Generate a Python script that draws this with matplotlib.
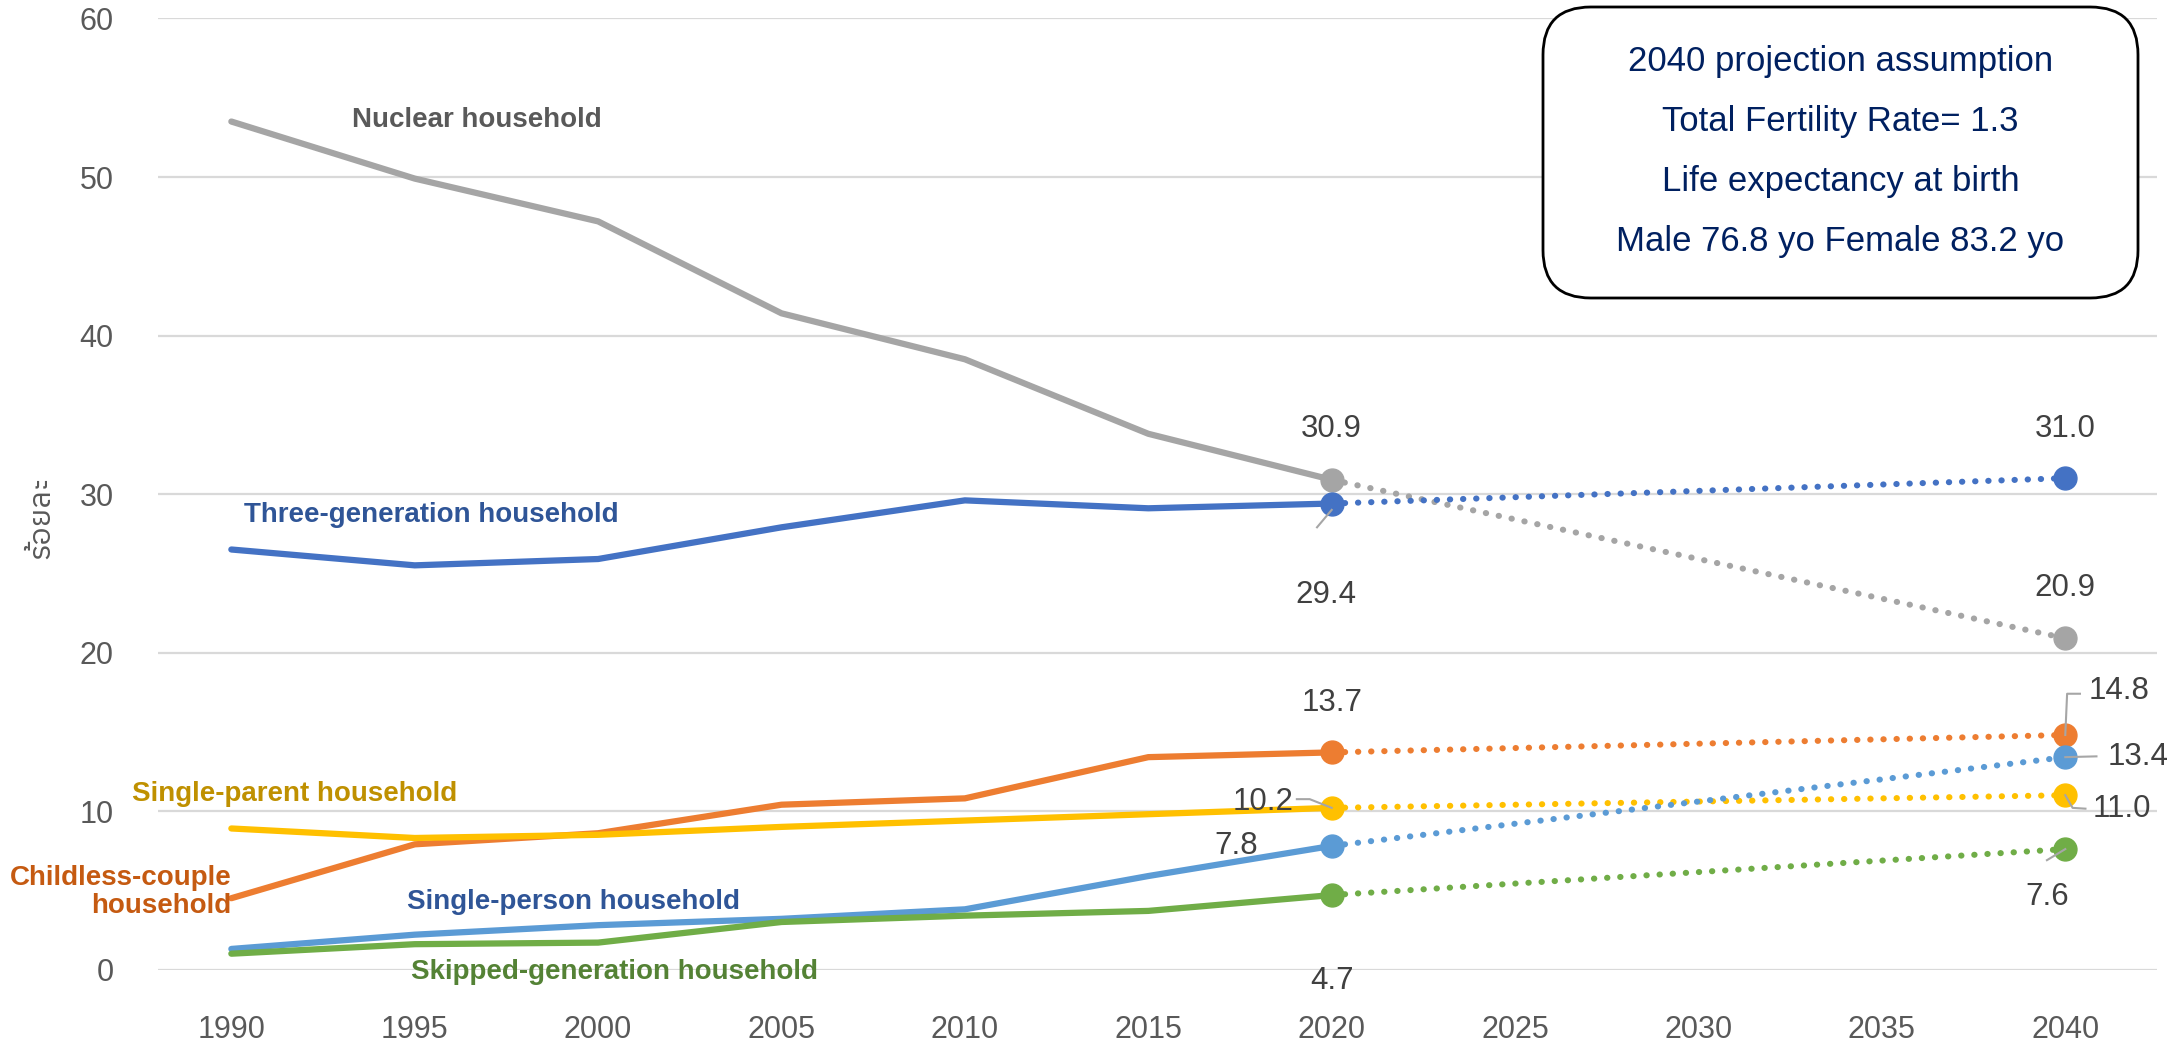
import matplotlib
matplotlib.use('Agg')
import matplotlib.pyplot as plt
from matplotlib.patches import FancyBboxPatch
from matplotlib import font_manager
from matplotlib.ft2font import FT2Font

# ---------------- data ----------------
years = [1990, 1995, 2000, 2005, 2010, 2015, 2020]
proj_years = [2020, 2040]
xticks = [1990, 1995, 2000, 2005, 2010, 2015, 2020, 2025, 2030, 2035, 2040]
yticks = [0, 10, 20, 30, 40, 50, 60]

nuclear = [53.5, 49.9, 47.2, 41.4, 38.5, 33.8, 30.9]
nuclear_proj = [30.9, 20.9]
three_gen = [26.5, 25.5, 25.9, 27.9, 29.6, 29.1, 29.4]
three_gen_proj = [29.4, 31.0]
childless = [4.5, 7.9, 8.6, 10.4, 10.8, 13.4, 13.7]
childless_proj = [13.7, 14.8]
single_parent = [8.9, 8.3, 8.5, 9.0, 9.4, 9.8, 10.2]
single_parent_proj = [10.2, 11.0]
single_person = [1.3, 2.2, 2.8, 3.2, 3.8, 5.9, 7.8]
single_person_proj = [7.8, 13.4]
skipped = [1.0, 1.6, 1.7, 3.0, 3.4, 3.7, 4.7]
skipped_proj = [4.7, 7.6]

series_names = ["Nuclear household", "Three-generation household",
                "Childless-couple\nhousehold", "Single-parent household",
                "Single-person household", "Skipped-generation household"]
box_lines = ["2040 projection assumption", "Total Fertility Rate= 1.3",
             "Life expectancy at birth", "Male 76.8 yo Female 83.2 yo"]
ylabel = "ร้อยละ"

# ---------------- fonts ----------------
base_font = 'Liberation Sans'


def find_thai_font():
    preferred = []
    others = []
    for f in font_manager.fontManager.ttflist:
        try:
            cm = FT2Font(f.fname).get_charmap()
        except Exception:
            continue
        if 0x0E23 in cm and 0x0E2D in cm and 0x0E25 in cm:
            if 'sans' in f.name.lower():
                preferred.append(f.name)
            else:
                others.append(f.name)
    if preferred:
        return preferred[0]
    if others:
        return others[0]
    return None


thai_font = find_thai_font()
plt.rcParams['font.family'] = [base_font, 'DejaVu Sans']

# ---------------- figure ----------------
fig = plt.figure(figsize=(21.7, 10.45), dpi=100)
ax = fig.add_axes([0.0728, 0.0722, 0.9212, 0.9101])
ax.set_xlim(1988, 2042.5)
ax.set_ylim(0, 60)
for s in ax.spines.values():
    s.set_visible(False)
ax.set_yticks(yticks)
ax.set_xticks(xticks)
ax.yaxis.grid(True, color='#D9D9D9', lw=1.6)
ax.set_axisbelow(True)
ax.tick_params(axis='both', length=0, labelsize=22, labelcolor='#595959')
ax.tick_params(axis='y', pad=32)
ax.tick_params(axis='x', pad=33)

c_gray = '#A5A5A5'
c_blue = '#4472C4'
c_orange = '#ED7D31'
c_yellow = '#FFC000'
c_lblue = '#5B9BD5'
c_green = '#70AD47'

dotted = (0, (0.05, 2.1))
hist = [(nuclear, nuclear_proj, c_gray), (three_gen, three_gen_proj, c_blue),
        (childless, childless_proj, c_orange), (single_parent, single_parent_proj, c_yellow),
        (single_person, single_person_proj, c_lblue), (skipped, skipped_proj, c_green)]
for h, p, c in hist:
    ax.plot(years, h, color=c, lw=4.5, solid_capstyle='round', solid_joinstyle='round', zorder=3)
    ax.plot(proj_years, p, color=c, lw=4.4, linestyle=dotted, dash_capstyle='round', zorder=3)
    ax.plot(proj_years, p, linestyle='none', marker='o', ms=16.5, color=c, zorder=4)

# series labels
lab_kw = dict(fontsize=20, fontweight='bold', va='center')
ax.text(1993.3, 53.6, series_names[0], color='#595959', ha='left', **lab_kw)
ax.text(1990.35, 28.7, series_names[1], color='#2F5597', ha='left', **lab_kw)
ax.text(1990.0, 4.9, series_names[2], color='#C55A11', ha='right', multialignment='right',
        linespacing=1.1, clip_on=False, **lab_kw)
ax.text(1987.3, 11.1, series_names[3], color='#BF9000', ha='left', clip_on=False, **lab_kw)
ax.text(1994.8, 4.25, series_names[4], color='#2F5597', ha='left', **lab_kw)
ax.text(1994.9, -0.15, series_names[5], color='#548235', ha='left', clip_on=False, **lab_kw)

# value labels
v_kw = dict(fontsize=22.5, color='#404040', va='center', clip_on=False)
ax.text(2020, 34.1, f"{nuclear_proj[0]:.1f}", ha='center', **v_kw)
ax.text(2019.85, 23.6, f"{three_gen_proj[0]:.1f}", ha='center', **v_kw)
ax.text(2040, 34.1, f"{three_gen_proj[1]:.1f}", ha='center', **v_kw)
ax.text(2040, 24.1, f"{nuclear_proj[1]:.1f}", ha='center', **v_kw)
ax.text(2020, 16.8, f"{childless_proj[0]:.1f}", ha='center', **v_kw)
ax.text(2018.95, 10.6, f"{single_parent_proj[0]:.1f}", ha='right', **v_kw)
ax.text(2018.0, 7.8, f"{single_person_proj[0]:.1f}", ha='right', **v_kw)
ax.text(2020, -0.7, f"{skipped_proj[0]:.1f}", ha='center', **v_kw)
ax.text(2040.65, 17.6, f"{childless_proj[1]:.1f}", ha='left', **v_kw)
ax.text(2041.15, 13.4, f"{single_person_proj[1]:.1f}", ha='left', **v_kw)
ax.text(2040.75, 10.1, f"{single_parent_proj[1]:.1f}", ha='left', **v_kw)
ax.text(2039.5, 4.6, f"{skipped_proj[1]:.1f}", ha='center', **v_kw)

# leader lines
l_kw = dict(color='#A6A6A6', lw=1.5, zorder=5, clip_on=False)
ax.plot([2020.0, 2019.6], [29.0, 27.9], **l_kw)
ax.plot([2019.05, 2019.4, 2020.0], [10.75, 10.75, 10.2], **l_kw)
ax.plot([2040.0, 2040.05, 2040.4], [14.8, 17.4, 17.4], **l_kw)
ax.plot([2040.0, 2040.85], [13.4, 13.45], **l_kw)
ax.plot([2040.0, 2040.2, 2040.55], [11.0, 10.2, 10.15], **l_kw)
ax.plot([2040.0, 2039.5], [7.6, 6.9], **l_kw)

# y-axis label
ytxt_family = [thai_font, 'DejaVu Sans'] if thai_font else ['DejaVu Sans']
fig.text(0.0185, 0.505, ylabel, rotation=90, ha='center', va='center', fontsize=22,
         color='#595959', family=ytxt_family)

# assumption box
bx0, by0, bx1, by1 = 1543 / 2170, 1 - 298 / 1045, 2138 / 2170, 1 - 7 / 1045
box = FancyBboxPatch((bx0, by0), bx1 - bx0, by1 - by0,
                     boxstyle='round,pad=0,rounding_size=0.022',
                     transform=fig.transFigure, facecolor='white', edgecolor='black',
                     lw=2.0, zorder=10, mutation_aspect=2170 / 1045)
fig.add_artist(box)
line_y = [62, 122, 181, 241]
for t, yy in zip(box_lines, line_y):
    fig.text((bx0 + bx1) / 2, 1 - yy / 1045, t, ha='center', va='center', fontsize=25,
             color='#002060', zorder=11)

fig.savefig('out.png', dpi=100)
